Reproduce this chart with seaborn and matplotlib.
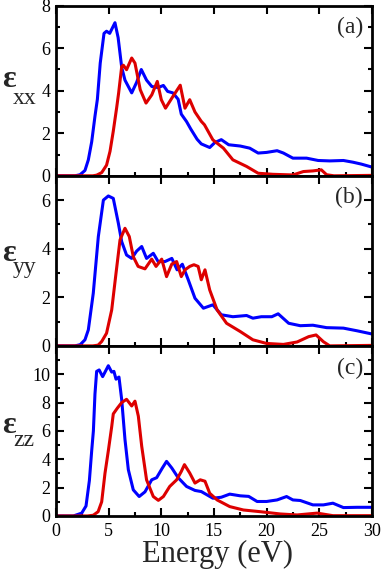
import matplotlib
matplotlib.use("Agg")
import matplotlib.pyplot as plt
import seaborn as sns
from matplotlib.ticker import MultipleLocator

# values (energy in eV, dielectric function)
e_blue_a = [0, 1.8, 2.28, 2.75, 3.07, 3.39, 3.7, 3.93, 4.2, 4.56, 4.8, 5.1, 5.6, 5.9, 6.24, 6.55, 7.19, 7.66,
            8.1, 8.6, 9.1, 9.7, 10.2, 10.6, 11.1, 11.6, 11.9, 12.4, 12.8, 13.4, 13.8, 14.6, 15.1, 15.7,
            16.4, 17.5, 18.4, 19.2, 20.0, 21.0, 21.6, 22.5, 23.8, 24.9, 26.0, 27.3, 28.2, 29.0, 30.0]
v_blue_a = [0, 0.0, 0.05, 0.25, 0.75, 1.6, 2.8, 3.6, 5.3, 6.7, 6.8, 6.7, 7.2, 6.5, 5.1, 4.5, 3.9, 4.4,
            5.0, 4.5, 4.2, 4.15, 4.25, 3.97, 3.9, 3.6, 2.9, 2.55, 2.2, 1.72, 1.5, 1.33, 1.57, 1.7,
            1.46, 1.4, 1.3, 1.07, 1.1, 1.18, 1.07, 0.83, 0.83, 0.72, 0.7, 0.72, 0.64, 0.55, 0.41]
e_red_a = [0, 3.5, 3.86, 4.34, 4.8, 5.13, 5.44, 5.76, 5.95, 6.24, 6.4, 6.7, 7.19, 7.5, 8.0, 8.55, 9.1, 9.62,
           10.0, 10.4, 11.1, 11.8, 12.25, 12.7, 13.2, 13.8, 14.1, 14.9, 15.9, 16.8, 18.1, 19.2, 20.6,
           22.5, 23.5, 24.4, 25.2, 25.7, 26.4, 30.0]
v_red_a = [0, 0.0, 0.03, 0.15, 0.5, 1.15, 2.1, 3.2, 3.9, 5.14, 5.2, 4.99, 5.54, 5.3, 4.05, 3.42, 3.81, 4.44,
           3.58, 3.18, 3.73, 4.26, 3.18, 3.58, 3.0, 2.56, 2.4, 1.69, 1.3, 0.75, 0.44, 0.12, 0.07,
           0.04, 0.2, 0.23, 0.28, 0.05, 0.0, 0.02]

e_blue_b = [0, 1.8, 2.3, 2.75, 3.07, 3.54, 4.02, 4.5, 4.97, 5.44, 5.92, 6.24, 6.7, 7.19, 7.66, 8.14, 8.6,
            9.24, 9.7, 10.35, 11.0, 11.5, 12.0, 12.56, 13.2, 14.0, 14.9, 15.7, 16.8, 18.1, 18.7, 19.5,
            20.5, 21.1, 22.1, 23.2, 24.4, 25.7, 27.3, 28.6, 30.0]
v_blue_b = [0, 0.0, 0.05, 0.25, 0.66, 2.17, 4.5, 6.0, 6.17, 6.07, 5.05, 4.29, 3.74, 3.6, 3.9, 4.09, 3.6,
            3.81, 3.47, 3.47, 3.6, 3.13, 3.36, 2.72, 1.96, 1.55, 1.69, 1.28, 1.2, 1.25, 1.14, 1.2,
            1.2, 1.32, 0.93, 0.83, 0.85, 0.75, 0.73, 0.62, 0.49]
e_red_b = [0, 3.5, 4.0, 4.34, 4.8, 5.29, 5.7, 6.08, 6.55, 6.96, 7.34, 7.8, 8.45, 9.09, 9.5, 10.04, 10.5,
           11.0, 11.46, 11.9, 12.25, 12.7, 13.1, 13.5, 13.8, 14.15, 14.6, 15.3, 16.2, 17.5, 18.7, 20.0,
           21.6, 22.9, 24.0, 24.7, 25.4, 26.0, 30.0]
v_red_b = [0, 0.0, 0.03, 0.18, 0.52, 1.48, 2.99, 4.36, 4.84, 4.5, 3.67, 3.27, 3.17, 3.57, 3.27, 3.57, 2.85,
           3.37, 3.47, 2.85, 3.13, 3.27, 3.34, 3.27, 2.72, 3.13, 2.3, 1.48, 0.93, 0.59, 0.25, 0.1,
           0.06, 0.16, 0.38, 0.45, 0.17, 0.0, 0.02]

e_blue_c = [0, 1.65, 2.44, 2.85, 3.17, 3.39, 3.55, 3.7, 3.86, 4.1, 4.43, 4.97, 5.29, 5.5, 5.7, 5.98, 6.24,
            6.55, 6.87, 7.34, 7.9, 8.45, 9.09, 9.56, 10.1, 10.5, 11.0, 11.6, 12.4, 13.2, 13.8, 14.9, 15.7,
            16.5, 17.5, 18.3, 19.1, 20.0, 21.0, 21.9, 22.5, 23.2, 24.4, 25.4, 26.3, 27.3, 28.6, 30.0]
v_blue_c = [0, 0.0, 0.2, 0.7, 2.5, 4.6, 6.0, 8.6, 10.2, 10.3, 9.83, 10.6, 10.15, 10.2, 9.65, 9.8, 8.2,
            5.4, 3.26, 1.84, 1.37, 1.7, 2.55, 2.7, 3.38, 3.85, 3.38, 2.7, 2.08, 1.8, 1.72, 1.25, 1.32,
            1.54, 1.42, 1.38, 1.02, 1.02, 1.13, 1.37, 1.13, 1.09, 0.78, 0.78, 0.9, 0.59, 0.61, 0.61]
e_red_c = [0, 3.0, 3.54, 4.0, 4.34, 4.65, 4.97, 5.29, 5.44, 5.82, 6.24, 6.7, 7.19, 7.5, 7.82, 8.14, 8.6,
           9.24, 9.72, 10.2, 10.8, 11.46, 11.9, 12.2, 12.7, 13.2, 13.7, 14.15, 14.6, 15.3, 16.5, 17.8,
           19.4, 21.3, 22.9, 24.8, 26.3, 30.0]
v_red_c = [0, 0.0, 0.05, 0.3, 1.0, 3.0, 4.6, 6.3, 7.2, 7.6, 8.0, 8.23, 7.76, 8.1, 7.04, 4.92, 2.55,
           1.37, 1.1, 1.37, 2.08, 2.55, 3.14, 3.62, 3.03, 2.32, 2.55, 2.45, 1.6, 1.13, 0.66, 0.42,
           0.3, 0.14, 0.07, 0.2, 0.02, 0.02]

panel_tags = ["(a)", "(b)", "(c)"]
subscripts = ["xx", "yy", "zz"]
y_tops = [8, 7, 12]
y_ticks = [[0, 2, 4, 6, 8], [0, 2, 4, 6], [0, 2, 4, 6, 8, 10]]
x_ticks = [0, 5, 10, 15, 20, 25, 30]

sns.set_style("ticks")
plt.rcParams["font.family"] = ["Liberation Serif", "DejaVu Serif"]

fig, axes = plt.subplots(3, 1, figsize=(3.81, 5.72), dpi=100, sharex=True)
fig.subplots_adjust(left=0.147, right=0.976, top=0.99, bottom=0.098, hspace=0)

series = [(e_blue_a, v_blue_a, e_red_a, v_red_a),
          (e_blue_b, v_blue_b, e_red_b, v_red_b),
          (e_blue_c, v_blue_c, e_red_c, v_red_c)]
eps_base = [0.52, 0.50, 0.49]
sub_drop = [0.095, 0.07, 0.08]

for i, ax in enumerate(axes):
    eb, vb, er, vr = series[i]
    sns.lineplot(x=eb, y=vb, ax=ax, color="#0000ff", lw=2.2, solid_joinstyle="round")
    sns.lineplot(x=er, y=vr, ax=ax, color="#dd0000", lw=2.2, solid_joinstyle="round")
    ax.set_xlim(0, 30)
    ax.set_ylim(0, y_tops[i])
    ax.set_yticks(y_ticks[i])
    ax.set_xticks(x_ticks)
    ax.xaxis.set_minor_locator(MultipleLocator(2.5))
    ax.yaxis.set_minor_locator(MultipleLocator(1))
    ax.tick_params(which="both", direction="in", top=True, right=True, width=1.5, colors="black",
                   labelsize=13)
    ax.tick_params(which="major", length=6)
    ax.tick_params(which="minor", length=3, top=False)
    ax.tick_params(axis="y", pad=4)
    ax.tick_params(axis="x", pad=5)
    for sp in ax.spines.values():
        sp.set_linewidth(2)
        sp.set_color("black")
    ax.set_xlabel("")
    ax.set_ylabel("")
    # epsilon label with a large subscript
    ax.text(-0.172, eps_base[i], "ε", transform=ax.transAxes, fontsize=23, fontweight="bold",
            ha="left", va="baseline")
    ax.text(-0.136, eps_base[i] - sub_drop[i], subscripts[i], transform=ax.transAxes, fontsize=17,
            ha="left", va="baseline")
    ax.text(0.972, 0.87, panel_tags[i], transform=ax.transAxes, fontsize=17, ha="right", va="center")

axes[2].text(0.51, -0.27, "Energy (eV)", transform=axes[2].transAxes, fontsize=22,
             ha="center", va="baseline")

fig.savefig("out.png", dpi=100)
